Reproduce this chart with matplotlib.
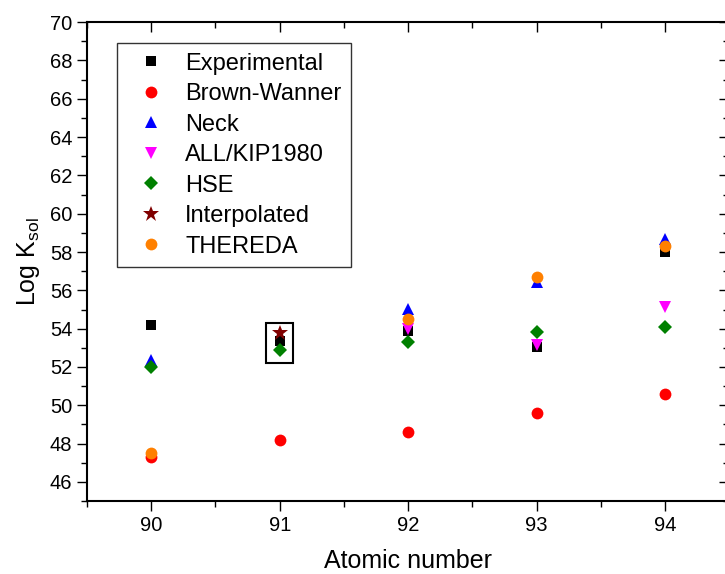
import matplotlib
matplotlib.use("Agg")
import matplotlib.pyplot as plt
from matplotlib.patches import Rectangle
from matplotlib.ticker import MultipleLocator
import numpy as np

plt.rcParams['font.family'] = ['Liberation Sans', 'DejaVu Sans']
plt.rcParams['mathtext.fontset'] = 'custom'
plt.rcParams['mathtext.rm'] = 'Liberation Sans'

# Data
atomic_number = [90, 91, 92, 93, 94]
experimental = [54.2, 53.35, 53.9, 53.05, 58.0]
brown_wanner = [47.3, 48.2, 48.6, 49.6, 50.6]
neck = [52.35, np.nan, 55.05, 56.45, 58.7]
all_kip1980 = [np.nan, np.nan, 53.97, 53.15, 55.15]
hse = [52.0, 52.9, 53.3, 53.8, 54.1]
interpolated = [np.nan, 53.75, np.nan, np.nan, np.nan]
thereda = [47.5, np.nan, 54.5, 56.7, 58.3]

# series: label, values, marker, colour, size
series = [
    ("Experimental", experimental, "s", "black", 7),
    ("Brown-Wanner", brown_wanner, "o", "red", 8.5),
    ("Neck", neck, "^", "blue", 9),
    ("ALL/KIP1980", all_kip1980, "v", "magenta", 9),
    ("HSE", hse, "D", "green", 7.5),
    ("Interpolated", interpolated, "*", "#800000", 12),
    ("THEREDA", thereda, "o", "#FF8000", 8.5),
]

fig = plt.figure(figsize=(7.25, 5.74), dpi=100)
ax = fig.add_axes([0.12, 0.127, 0.886, 0.8345])

for label, vals, mk, col, ms in series:
    ax.plot(atomic_number, vals, linestyle="none", marker=mk, color=col,
            markersize=ms, markeredgewidth=0, label=label)

# box around the interpolated value
ax.add_patch(Rectangle((90.893, 52.23), 0.214, 2.09, fill=False,
                       edgecolor="black", linewidth=1.5, zorder=5))

ax.set_xlim(89.5, 94.5)
ax.set_ylim(45, 70)
ax.set_xticks(atomic_number)
ax.xaxis.set_minor_locator(MultipleLocator(0.5))
ax.set_yticks(np.arange(46, 71, 2))
ax.yaxis.set_minor_locator(MultipleLocator(1))

ax.tick_params(axis="both", which="major", labelsize=14.5, width=1, length=7)
ax.tick_params(axis="both", which="minor", width=1, length=4)
ax.tick_params(axis="x", which="both", top=True, direction="out")
ax.tick_params(axis="y", which="both", right=True, direction="out")
for spine in ax.spines.values():
    spine.set_linewidth(1.5)

# ticks on top and right point inward
for t in ax.xaxis.get_major_ticks() + ax.xaxis.get_minor_ticks():
    t.tick2line.set_marker(3)
for t in ax.yaxis.get_major_ticks() + ax.yaxis.get_minor_ticks():
    t.tick2line.set_marker(0)

ax.set_xlabel("Atomic number", fontsize=18, labelpad=10)
ax.set_ylabel("Log K$_{\\mathrm{sol}}$", fontsize=18, labelpad=6)

leg = ax.legend(loc="upper left", bbox_to_anchor=(0.047, 0.956), fontsize=17,
                frameon=True, fancybox=False, edgecolor="black",
                borderaxespad=0, handletextpad=0.38, labelspacing=0.36,
                borderpad=0.4, handlelength=2.1)
leg.get_frame().set_linewidth(1)

fig.savefig("out.png", dpi=100)
